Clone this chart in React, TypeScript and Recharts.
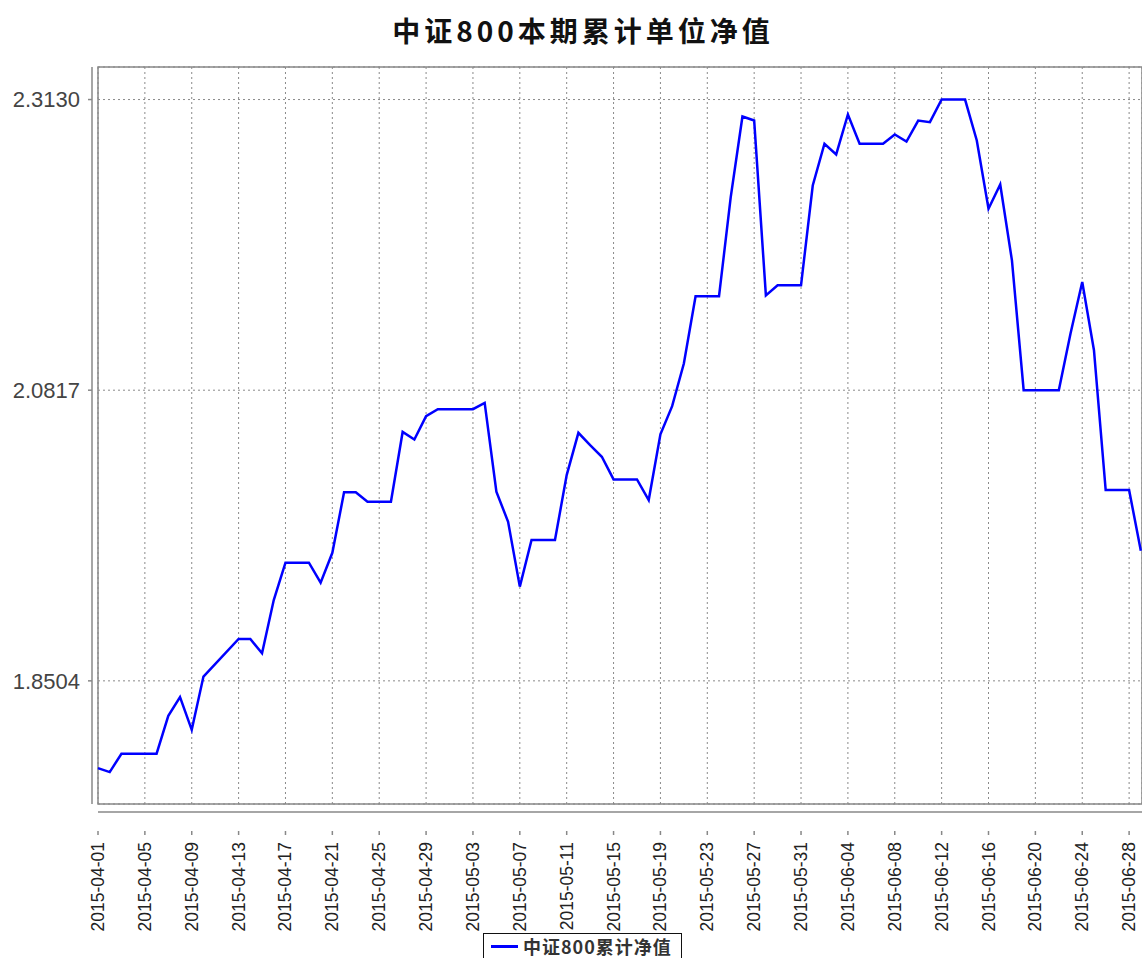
import { LineChart, Line, XAxis, YAxis, CartesianGrid, ReferenceArea } from "recharts";

const dates = [
  "2015-04-01", "2015-04-02", "2015-04-03", "2015-04-04", "2015-04-05", "2015-04-06",
  "2015-04-07", "2015-04-08", "2015-04-09", "2015-04-10", "2015-04-13", "2015-04-14",
  "2015-04-15", "2015-04-16", "2015-04-17", "2015-04-18", "2015-04-19", "2015-04-20",
  "2015-04-21", "2015-04-22", "2015-04-23", "2015-04-24", "2015-04-25", "2015-04-26",
  "2015-04-27", "2015-04-28", "2015-04-29", "2015-04-30", "2015-05-01", "2015-05-02",
  "2015-05-03", "2015-05-04", "2015-05-05", "2015-05-06", "2015-05-07", "2015-05-08",
  "2015-05-09", "2015-05-10", "2015-05-11", "2015-05-12", "2015-05-13", "2015-05-14",
  "2015-05-15", "2015-05-16", "2015-05-17", "2015-05-18", "2015-05-19", "2015-05-20",
  "2015-05-21", "2015-05-22", "2015-05-23", "2015-05-24", "2015-05-25", "2015-05-26",
  "2015-05-27", "2015-05-28", "2015-05-29", "2015-05-30", "2015-05-31", "2015-06-01",
  "2015-06-02", "2015-06-03", "2015-06-04", "2015-06-05", "2015-06-06", "2015-06-07",
  "2015-06-08", "2015-06-09", "2015-06-10", "2015-06-11", "2015-06-12", "2015-06-13",
  "2015-06-14", "2015-06-15", "2015-06-16", "2015-06-17", "2015-06-18", "2015-06-19",
  "2015-06-20", "2015-06-21", "2015-06-22", "2015-06-23", "2015-06-24", "2015-06-25",
  "2015-06-26", "2015-06-27", "2015-06-28", "2015-06-29",
];

const navValues = [
  1.781, 1.7778, 1.7924, 1.7924, 1.7924, 1.7924,
  1.8226, 1.8374, 1.8114, 1.8538, 1.8837, 1.8837,
  1.8723, 1.9147, 1.9444, 1.9444, 1.9444, 1.9285,
  1.9523, 2.0004, 2.0004, 1.9929, 1.9929, 1.9929,
  2.0485, 2.0425, 2.061, 2.0666, 2.0666, 2.0666,
  2.0666, 2.0716, 2.0009, 1.977, 1.9254, 1.9625,
  1.9625, 1.9625, 2.0141, 2.0478, 2.038, 2.0287,
  2.0107, 2.0107, 2.0107, 1.9943, 2.0466, 2.069,
  2.1029, 2.1564, 2.1564, 2.1564, 2.2353, 2.2995,
  2.2963, 2.1572, 2.1652, 2.1652, 2.1652, 2.2446,
  2.2778, 2.2693, 2.3011, 2.2778, 2.2778, 2.2778,
  2.2852, 2.2796, 2.2963, 2.295, 2.313, 2.313,
  2.313, 2.2804, 2.2261, 2.2454, 2.185, 2.0817,
  2.0817, 2.0817, 2.0817, 2.1268, 2.1678, 2.1135,
  2.0022, 2.0022, 2.0022, 1.954,
];

const yTicks = [1.8504, 2.0817, 2.313];
const tickDates = [
  "2015-04-01", "2015-04-05", "2015-04-09", "2015-04-13", "2015-04-17", "2015-04-21",
  "2015-04-25", "2015-04-29", "2015-05-03", "2015-05-07", "2015-05-11", "2015-05-15",
  "2015-05-19", "2015-05-23", "2015-05-27", "2015-05-31", "2015-06-04", "2015-06-08",
  "2015-06-12", "2015-06-16", "2015-06-20", "2015-06-24", "2015-06-28",
];

const title = "中证800本期累计单位净值";
const seriesName = "中证800累计净值";

const DAY = 86400000;
const START = Date.UTC(2015, 3, 1);
const toDay = (s: string) => {
  const [y, m, d] = s.split("-").map(Number);
  return (Date.UTC(y, m - 1, d) - START) / DAY;
};
const toLabel = (n: number) => {
  const d = new Date(START + Math.round(n) * DAY);
  return d.toISOString().slice(0, 10);
};

const chartData = dates.map((d, i) => ({ day: toDay(d), nav: navValues[i] }));
const xTicks = tickDates.map(toDay);

const X_MAX = 89.1;
const Y_MIN = 1.7524;
const Y_MAX = 2.3389;

function DateTick({ x, y, payload }: any) {
  return (
    <g transform={`translate(${x},${y})`}>
      <line x1={0} y1={8} x2={0} y2={12} stroke="#888" strokeWidth={1.5} />
      <text
        transform="rotate(-90)"
        x={-19}
        y={0}
        textAnchor="end"
        dominantBaseline="central"
        fontSize={17.5}
        fontFamily="'Liberation Sans', Arial, sans-serif"
        fill="#222"
      >
        {toLabel(payload.value)}
      </text>
    </g>
  );
}

export default function App() {
  return (
    <div
      style={{
        position: "absolute",
        left: 0,
        top: 0,
        width: 1142,
        height: 958,
        overflow: "hidden",
        background: "#fff",
      }}
    >
      <div
        style={{
          position: "absolute",
          left: 0,
          top: 10,
          width: 1166,
          textAlign: "center",
          fontFamily: "'Noto Sans CJK SC', sans-serif",
          fontWeight: 700,
          fontSize: 28,
          letterSpacing: 4,
          color: "#111",
          lineHeight: "40px",
        }}
      >
        {title}
      </div>
      <div style={{ position: "absolute", left: 0, top: 0 }}>
        <LineChart
          width={1142}
          height={958}
          data={chartData}
          margin={{ top: 67, right: 0, bottom: 0, left: 0 }}
        >
          <CartesianGrid stroke="#8a8a8a" strokeDasharray="2 3" strokeWidth={1} />
          <ReferenceArea
            x1={0}
            x2={X_MAX}
            y1={Y_MIN}
            y2={Y_MAX}
            fill="none"
            stroke="#888"
            strokeWidth={1.5}
            ifOverflow="visible"
          />
          <XAxis
            dataKey="day"
            type="number"
            domain={[0, X_MAX]}
            ticks={xTicks}
            interval={0}
            height={154}
            tickSize={4}
            tickMargin={15}
            tickLine={false}
            axisLine={{ stroke: "#888", strokeWidth: 1.5, transform: "translate(0 8)" }}
            tick={<DateTick />}
          />
          <YAxis
            type="number"
            domain={[Y_MIN, Y_MAX]}
            ticks={yTicks}
            interval={0}
            width={98}
            tickSize={4}
            tickMargin={14}
            tickFormatter={(v: number) => v.toFixed(4)}
            tickLine={{ stroke: "#888", strokeWidth: 1.5, transform: "translate(-6 0)" }}
            axisLine={{ stroke: "#888", strokeWidth: 1.5, transform: "translate(-6 0)" }}
            tick={{ fontSize: 22, fill: "#444", fontFamily: "'Liberation Sans', Arial, sans-serif" }}
          />
          <Line
            type="linear"
            dataKey="nav"
            stroke="#0000ff"
            strokeWidth={2.5}
            dot={false}
            isAnimationActive={false}
          />
        </LineChart>
      </div>
      <div
        style={{
          position: "absolute",
          left: 483,
          top: 933,
          width: 199,
          height: 40,
          border: "1.5px solid #111",
          boxSizing: "border-box",
          background: "#fff",
        }}
      >
        <div
          style={{
            position: "absolute",
            left: 7,
            top: 11,
            width: 27,
            height: 3,
            background: "#0000ff",
          }}
        />
        <div
          style={{
            position: "absolute",
            left: 39,
            top: -2,
            fontFamily: "'Noto Sans CJK SC', sans-serif",
            fontWeight: 700,
            fontSize: 18,
            letterSpacing: 1,
            color: "#333",
            lineHeight: "28px",
            whiteSpace: "nowrap",
          }}
        >
          {seriesName}
        </div>
      </div>
    </div>
  );
}
